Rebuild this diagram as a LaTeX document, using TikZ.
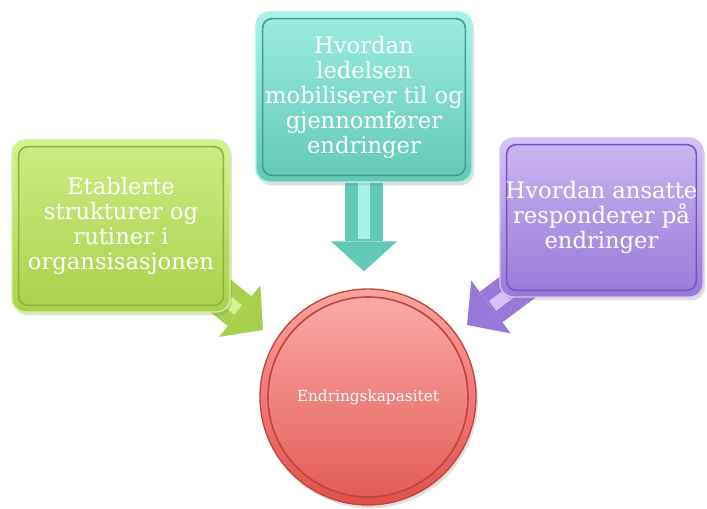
\documentclass[tikz,border=0pt]{standalone}
\usepackage{fontspec}
\setmainfont{DejaVu Serif}
\usetikzlibrary{arrows.meta,shadows,backgrounds}

\definecolor{limeA}{HTML}{D6F290}
\definecolor{limeB}{HTML}{A8D04C}
\definecolor{limeC}{HTML}{8DB43A}
\definecolor{tealA}{HTML}{A8F2E8}
\definecolor{tealB}{HTML}{62C8B8}
\definecolor{tealC}{HTML}{3F9C8F}
\definecolor{lilaA}{HTML}{D6C2F6}
\definecolor{lilaB}{HTML}{9878D8}
\definecolor{lilaC}{HTML}{7658B8}
\definecolor{roseA}{HTML}{FCA4A0}
\definecolor{roseB}{HTML}{E0504C}
\definecolor{roseC}{HTML}{C2423F}

\tikzset{
  panel/.style n args={3}{rectangle, rounded corners=10pt, top color=#1, bottom color=#2,
    draw=#1, line width=1pt, text=white, align=center,
    font=\fontsize{17}{18.75}\selectfont,
    drop shadow={opacity=0.25, shadow xshift=1.5pt, shadow yshift=-2.5pt},
    path picture={\draw[rounded corners=7pt, draw=#3, line width=1.2pt,
      top color=#1!85!#2, bottom color=#2]
      ([shift={(5pt,5pt)}]path picture bounding box.south west) rectangle
      ([shift={(-5pt,-5pt)}]path picture bounding box.north east);}},
  flow/.style={line width=28.5pt, draw=#1, line cap=butt,
    -{Triangle[length=22.5pt 0, width=49.5pt 0, line width=0pt 0]}},
  flowlight/.style={line width=9pt, draw=#1, shorten >=24pt, line cap=butt}
}

\begin{document}
\begin{tikzpicture}[x=0.75pt, y=-0.75pt]
  \useasboundingbox (0,0) rectangle (707,509);

  \node[panel={limeA}{limeB}{limeC}, minimum width=163.5pt, minimum height=129pt] (lime) at (121,226)
    {Etablerte\\strukturer og\\rutiner i\\organsisasjonen};
  \node[panel={tealA}{tealB}{tealC}, minimum width=162pt, minimum height=127.5pt] (teal) at (364,97)
    {Hvordan\\ledelsen\\mobiliserer til og\\gjennomfører\\endringer};
  \node[panel={lilaA}{lilaB}{lilaC}, minimum width=152.25pt, minimum height=119.25pt] (lila) at (601.5,217.5)
    {Hvordan ansatte\\responderer på\\endringer};

  \node[circle, minimum size=162pt, top color=roseA, bottom color=roseB, draw=roseC, line width=1pt,
    text=white, font=\fontsize{11.5}{13}\selectfont,
    drop shadow={opacity=0.25, shadow xshift=1.5pt, shadow yshift=-2.5pt},
    path picture={\draw[draw=roseC, line width=1.2pt, top color=roseA!90!white, bottom color=roseB!95!white]
      (path picture bounding box.center) circle (75pt);}] (ring) at (368,397) {Endringskapasitet};

  \coordinate (limetip) at (263,330);
  \coordinate (lilatip) at (467,325);
  \coordinate (tealtip) at ([yshift=12.75pt]teal.south |- ring.north);

  \begin{scope}[on background layer]
    \fill[white] (0,0) rectangle (707,509);
    \draw[flow=limeB] ([shift={(-29,-32)}]lime.south east) -- (limetip);
    \draw[flowlight=limeA] ([shift={(-29,-32)}]lime.south east) -- (limetip);
    \draw[flow=tealB] (teal.south) -- (tealtip);
    \draw[flowlight=tealA] (teal.south) -- (tealtip);
    \draw[flow=lilaB] ([shift={(31,-20)}]lila.south west) -- (lilatip);
    \draw[flowlight=lilaA] ([shift={(31,-20)}]lila.south west) -- (lilatip);
  \end{scope}
\end{tikzpicture}
\end{document}
